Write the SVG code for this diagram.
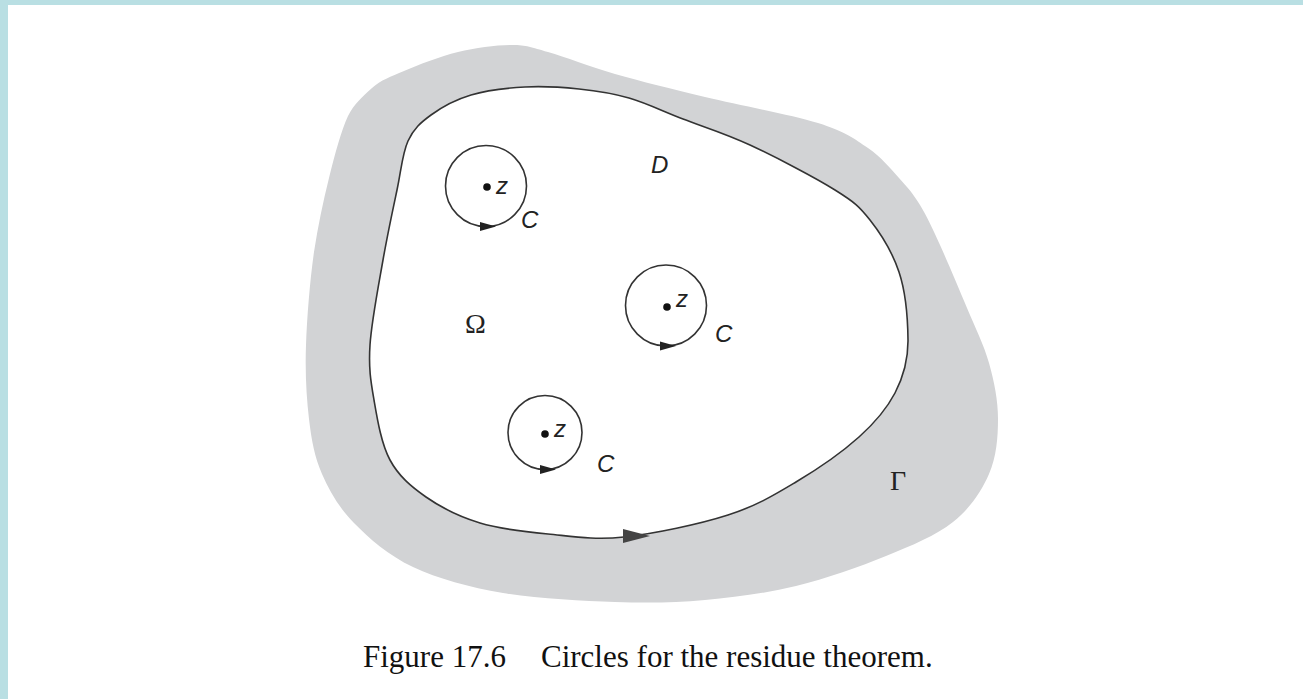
<svg xmlns="http://www.w3.org/2000/svg" width="1303" height="699" viewBox="0 0 1303 699">
<style>
.curve{fill:none;stroke:#333;stroke-width:1.6}
.arr{fill:#222}
.it{font-family:"Liberation Sans",Arial,sans-serif;font-style:italic;font-size:24px;fill:#222}
.gr{font-family:"Liberation Serif","Times New Roman",serif;font-size:28px;fill:#222}
.cap{font-family:"Liberation Serif","Times New Roman",serif;font-size:31px;fill:#111}
</style>
<rect x="0" y="0" width="1303" height="699" fill="#ffffff"/>
<rect x="0" y="0" width="1303" height="5" fill="#b9dfe3"/>
<rect x="0" y="0" width="8" height="699" fill="#b9dfe3"/>
<g id="region-gamma">
<path fill="#d2d3d5" d="M 615 602 C 648.7 603.2, 674.8 602.7, 705 600 C 735.2 597.3, 765.8 593.3, 796 586 C 826.2 578.7, 859.8 566.7, 886 556 C 912.2 545.3, 935.8 535.7, 953 522 C 970.2 508.3, 981.5 491.2, 989 474 C 996.5 456.8, 998 437.5, 998 419 C 998 400.5, 994.2 381.5, 989 363 C 983.8 344.5, 975.2 327.7, 967 308 C 958.8 288.3, 947.8 262.2, 940 245 C 932.2 227.8, 926.8 216.2, 920 205 C 913.2 193.8, 907.7 187.5, 899 178 C 890.3 168.5, 881.5 157.2, 868 148 C 854.5 138.8, 845.2 131.5, 818 123 C 790.8 114.5, 738.8 105.2, 705 97 C 671.2 88.8, 641.2 81.5, 615 74 C 588.8 66.5, 565.2 56.8, 548 52 C 530.8 47.2, 527 45, 512 45 C 497 45, 476 47.7, 458 52 C 440 56.3, 417.5 65.3, 404 71 C 390.5 76.7, 381 80, 372 88 C 362 97, 354 104, 348 116 C 341 131, 335 154, 329 178 C 323 202, 318 226, 314 252 C 310 280, 307 317, 306 345 C 305 372.8, 306.5 397.5, 309 419 C 311.5 440.5, 314.5 456.7, 322 474 C 329.5 491.3, 338.8 507.5, 354 523 C 369.2 538.5, 388.2 555.3, 413 567 C 437.8 578.7, 469.3 587.2, 503 593 C 536.7 598.8, 581.3 600.8, 615 602 Z"/>
<text class="gr" x="890" y="490">Γ</text>
</g>
<g id="region-D">
<path fill="#ffffff" stroke="#333" stroke-width="1.6" d="M 624 537 C 654 533.8, 699.3 524.2, 728 515 C 756.7 505.8, 774.2 495, 796 482 C 817.8 469, 842.5 451.8, 859 437 C 875.5 422.2, 886.5 409.2, 895 393 C 903.5 376.8, 908.2 360.2, 908 340 C 907.8 319.8, 905.7 292, 899 272 C 892.3 252, 880.8 233.7, 870 220 C 859.2 206.3, 855 202.5, 835 190 C 815 177.5, 775.3 156.8, 750 145 C 724.7 133.2, 703.2 126.8, 683 119 C 662.8 111.2, 646.3 103, 629 98 C 611.7 93, 596.3 90.8, 579 89 C 561.7 87.2, 543 86, 525 87 C 507 88, 486.7 90.3, 471 95 C 455.3 99.7, 441.5 107.3, 431 115 C 420.5 122.7, 413.7 128.5, 408 141 C 402.3 153.5, 401.2 170.2, 397 190 C 392.8 209.8, 387.5 234.2, 383 260 C 378.5 285.8, 371.5 321.7, 370 345 C 368.5 368.3, 370.7 380.8, 374 400 C 377.3 419.2, 381.3 443.8, 390 460 C 398.7 476.2, 411 486.5, 426 497 C 441 507.5, 459.7 516.8, 480 523 C 500.3 529.2, 524 531.7, 548 534 C 572 536.3, 594 540.2, 624 537 Z"/>
<path fill="#444" d="M623,529 L650,536 L623,543 Z"/>
<text class="it" x="651" y="173">D</text>
<text class="gr" x="465" y="333">Ω</text>
</g>
<g id="circle-1">
<circle class="curve" cx="486" cy="186" r="40.5"/>
<path class="arr" d="M480,222 L496,226.5 L480,231 Z"/>
<circle cx="487" cy="187" r="3.8" fill="#111"/>
<text class="it" x="496" y="194">z</text>
<text class="it" x="521" y="228">C</text>
</g>
<g id="circle-2">
<circle class="curve" cx="666" cy="305.5" r="40.5"/>
<path class="arr" d="M660,341.5 L676,346 L660,350.5 Z"/>
<circle cx="667" cy="307" r="3.8" fill="#111"/>
<text class="it" x="676" y="307">z</text>
<text class="it" x="715" y="342">C</text>
</g>
<g id="circle-3">
<circle class="curve" cx="545" cy="432.5" r="37"/>
<path class="arr" d="M540,465 L556,469.5 L540,474 Z"/>
<circle cx="545" cy="434" r="3.8" fill="#111"/>
<text class="it" x="554" y="437">z</text>
<text class="it" x="597" y="472">C</text>
</g>
<g id="caption">
<text class="cap" x="363" y="667">Figure 17.6</text>
<text class="cap" x="541" y="667">Circles for the residue theorem.</text>
</g>
</svg>
